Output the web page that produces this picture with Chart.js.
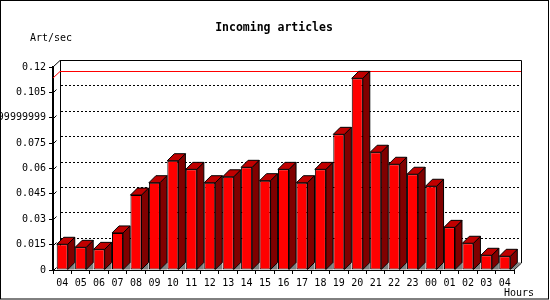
<!DOCTYPE html>
<html>
<head>
<meta charset="utf-8">
<title>Incoming articles</title>
<script src="https://cdn.jsdelivr.net/npm/chart.js@4/dist/chart.umd.min.js"></script>
<style>
    html, body { margin: 0; padding: 0; background: #fff; }
    #wrap { width: 550px; height: 300px; position: relative; }
</style>
</head>
<body>
<div id="wrap"><canvas id="articlesChart" width="550" height="300"></canvas></div>
<script>
/* Incoming articles — hourly rate, 3D bar style */

const hours = ['04', '05', '06', '07', '08', '09', '10', '11', '12', '13', '14', '15', '16',
    '17', '18', '19', '20', '21', '22', '23', '00', '01', '02', '03', '04'];
const artPerSec = [0.0152, 0.0134, 0.0122, 0.0219, 0.0443, 0.0516, 0.0646, 0.0595, 0.0516,
    0.0551, 0.0607, 0.0528, 0.0595, 0.0516, 0.0595, 0.0802, 0.1133, 0.0696, 0.0625,
    0.0566, 0.0495, 0.0252, 0.0158, 0.0087, 0.0081];
const yTickLabels = ['0', '0.015', '0.03', '0.045', '0.06', '0.075', '0.08999999999999999', '0.105', '0.12'];

const DEPTH = 7;
const MONO = '"DejaVu Sans Mono", "Liberation Mono", monospace';

function poly(ctx, pts, fill) {
    ctx.beginPath();
    ctx.moveTo(pts[0][0], pts[0][1]);
    for (let i = 1; i < pts.length; i++) ctx.lineTo(pts[i][0], pts[i][1]);
    ctx.closePath();
    if (fill) { ctx.fillStyle = fill; ctx.fill(); }
    ctx.stroke();
}

const depth3d = {
    id: 'depth3d',
    beforeDatasetsDraw(chart) {
        const { ctx, chartArea: a, scales: { y } } = chart;
        const d = DEPTH;
        ctx.save();
        ctx.strokeStyle = '#000';
        ctx.lineWidth = 1;

        // dotted grid on the back wall + small nubs off the axis
        y.ticks.forEach(t => {
            const py = Math.round(y.getPixelForValue(t.value));
            if (t.value > 0 && t.value < 0.119) {
                ctx.setLineDash([2, 2]);
                ctx.beginPath();
                ctx.moveTo(a.left + d + 1, py - d + 0.5);
                ctx.lineTo(a.right + d, py - d + 0.5);
                ctx.stroke();
                ctx.setLineDash([]);
            }
            if (t.value < 0.119) {
                ctx.beginPath();
                ctx.moveTo(a.left + 1, py);
                ctx.lineTo(a.left + 3.5, py - 2.5);
                ctx.stroke();
            }
        });

        // back wall frame and floor edge
        ctx.beginPath();
        ctx.moveTo(a.left, a.top);
        ctx.lineTo(a.left + d, a.top - d + 0.5);
        ctx.lineTo(a.right + d + 0.5, a.top - d + 0.5);
        ctx.lineTo(a.right + d + 0.5, a.bottom - d);
        ctx.lineTo(a.right, a.bottom);
        ctx.stroke();
        ctx.beginPath();
        ctx.moveTo(a.left + d + 0.5, a.top - d);
        ctx.lineTo(a.left + d + 0.5, a.bottom - d);
        ctx.stroke();

        // max line
        const maxV = Math.max(...artPerSec);
        const my = Math.round(y.getPixelForValue(maxV));
        ctx.strokeStyle = '#ff0000';
        ctx.beginPath();
        ctx.moveTo(a.left, my);
        ctx.lineTo(a.left + d, my - d + 0.5);
        ctx.lineTo(a.right + d, my - d + 0.5);
        ctx.stroke();
        ctx.restore();
    },
    afterDatasetsDraw(chart) {
        const { ctx, chartArea: a } = chart;
        const d = DEPTH;
        const bars = chart.getDatasetMeta(0).data;
        ctx.save();
        ctx.strokeStyle = '#000';
        ctx.lineWidth = 1;
        bars.forEach((bar, i) => {
            const p = bar.getProps(['x', 'y', 'base', 'width'], true);
            const l = p.x - p.width / 2;
            const r = p.x + p.width / 2;
            const top = p.y, base = p.base;
            // floor shadow
            ctx.fillStyle = '#808080';
            ctx.beginPath();
            if (i === bars.length - 1) {
                ctx.moveTo(r, base);
                ctx.lineTo(r + d, base - d);
                ctx.lineTo(a.right + d, base - d);
                ctx.lineTo(a.right, base);
            } else {
                ctx.moveTo(r, base);
                ctx.lineTo(r + d, base - d);
                ctx.lineTo(r + d, base);
            }
            ctx.closePath();
            ctx.fill();
            // side and top faces
            poly(ctx, [[r, top], [r + d, top - d], [r + d, base - d], [r, base]], '#800000');
            poly(ctx, [[l, top], [l + d, top - d], [r + d, top - d], [r, top]], '#c00000');
        });
        ctx.restore();
    },
    afterDraw(chart) {
        const { ctx, chartArea: a } = chart;
        ctx.save();
        ctx.fillStyle = '#000';
        ctx.font = 'bold 11.5px ' + MONO;
        ctx.textAlign = 'center';
        ctx.textBaseline = 'alphabetic';
        ctx.fillText('Incoming articles', 274, 31);
        ctx.font = '10px ' + MONO;
        ctx.textAlign = 'left';
        ctx.fillText('Art/sec', 30, 41);
        ctx.fillText('Hours', 504, 296);
        ctx.strokeStyle = '#000';
        ctx.lineWidth = 1;
        ctx.strokeRect(0.5, 0.5, 548, 298.5);
        ctx.restore();
    }
};

new Chart(document.getElementById('articlesChart'), {
    type: 'bar',
    data: {
        labels: hours,
        datasets: [{
            label: 'Art/sec',
            data: artPerSec,
            backgroundColor: '#ff0000',
            borderColor: '#000',
            borderWidth: 1,
            borderSkipped: false,
            barPercentage: 0.6,
            categoryPercentage: 1
        }]
    },
    options: {
        responsive: false,
        animation: false,
        events: [],
        layout: { padding: { top: 67, right: 36, left: 0, bottom: 0 } },
        plugins: { legend: { display: false }, title: { display: false }, tooltip: { enabled: false } },
        scales: {
            x: {
                grid: { display: true, drawOnChartArea: false, tickLength: 4, color: '#000' },
                border: { display: true, color: '#000', width: 1 },
                ticks: { color: '#000', font: { family: MONO, size: 10 }, padding: 3, maxRotation: 0, autoSkip: false },
                afterFit(scale) {
                    scale.height = 30;
                    scale.paddingLeft = 0;
                    scale.paddingRight = 0;
                }
            },
            y: {
                min: 0,
                max: 0.12,
                grid: { display: true, drawOnChartArea: false, tickLength: 4, color: '#000' },
                border: { display: true, color: '#000', width: 2 },
                ticks: {
                    stepSize: 0.015,
                    color: '#000',
                    font: { family: MONO, size: 10 },
                    padding: 3,
                    callback: (v, i) => yTickLabels[i]
                },
                afterFit(scale) {
                    scale.width = 53;
                    scale.paddingTop = 0;
                    scale.paddingBottom = 0;
                }
            }
        }
    },
    plugins: [depth3d]
});
</script>
</body>
</html>
